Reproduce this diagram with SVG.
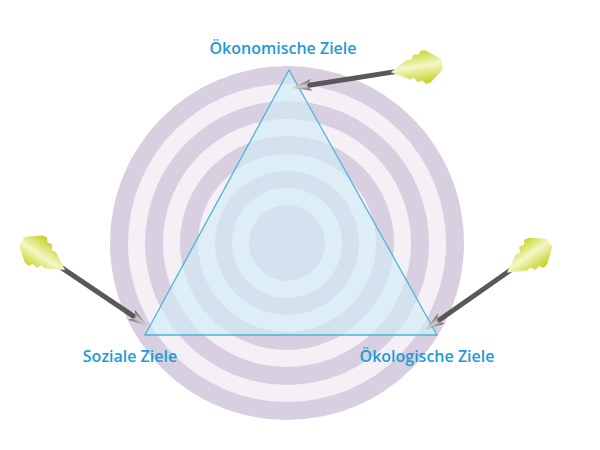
<svg xmlns="http://www.w3.org/2000/svg" width="600" height="450" viewBox="0 0 600 450">
<defs>
<style>
.p{fill:#d8cfe0}.l{fill:#f4f0f6}
.lab{font-family:"Open Sans","Liberation Sans",sans-serif;font-size:16px;font-weight:600;fill:#1d9bd5;text-anchor:middle}
.shaft{stroke:#58585a;stroke-width:5}
</style>
<linearGradient id="fg" x1="0" y1="0" x2="0" y2="1"><stop offset="0" stop-color="#c8d62a"/><stop offset="0.45" stop-color="#f4f7c8"/><stop offset="1" stop-color="#c2d020"/></linearGradient>
<linearGradient id="hg" x1="0" y1="0" x2="0" y2="1"><stop offset="0" stop-color="#5a5a5c"/><stop offset="0.5" stop-color="#d0d0d0"/><stop offset="1" stop-color="#5a5a5c"/></linearGradient>
<g id="arrow">
<line class="shaft" x1="14" y1="0" x2="108" y2="0"/>
<polygon points="0,0 20,-6 15,0 20,6" fill="url(#hg)"/>
<polygon points="100,0 118,-10 122,-9 125,-14 130,-13 133,-17 138,-16 152,-5 152,5 138,16 133,17 130,13 125,14 122,9 118,10" fill="url(#fg)"/>
</g>
</defs>
<rect width="600" height="450" fill="#fff"/>
<g id="target">
<circle cx="287" cy="243" r="177" class="p"/>
<circle cx="287" cy="243" r="159" class="l"/>
<circle cx="287" cy="243" r="142" class="p"/>
<circle cx="287" cy="243" r="124" class="l"/>
<circle cx="287" cy="243" r="107" class="p"/>
<circle cx="287" cy="243" r="89" class="l"/>
<circle cx="287" cy="243" r="72" class="p"/>
<circle cx="287" cy="243" r="55" class="l"/>
<circle cx="287" cy="243" r="38" class="p"/>
</g>
<g id="triangle"><polygon points="289,70 145,335 437,335" fill="#d3edf8" fill-opacity="0.65" stroke="#4fb3d9" stroke-width="1.3"/></g>
<g id="connectors">
<use href="#arrow" transform="translate(292,88) rotate(-9)"/>
<use href="#arrow" transform="translate(148,326) rotate(214)"/>
<use href="#arrow" transform="translate(425,330) rotate(-35)"/>
</g>
<g id="n1"><text class="lab" x="283" y="54">Ökonomische Ziele</text></g>
<g id="n2"><text class="lab" x="130" y="362">Soziale Ziele</text></g>
<g id="n3"><text class="lab" x="427" y="362">Ökologische Ziele</text></g>
</svg>
